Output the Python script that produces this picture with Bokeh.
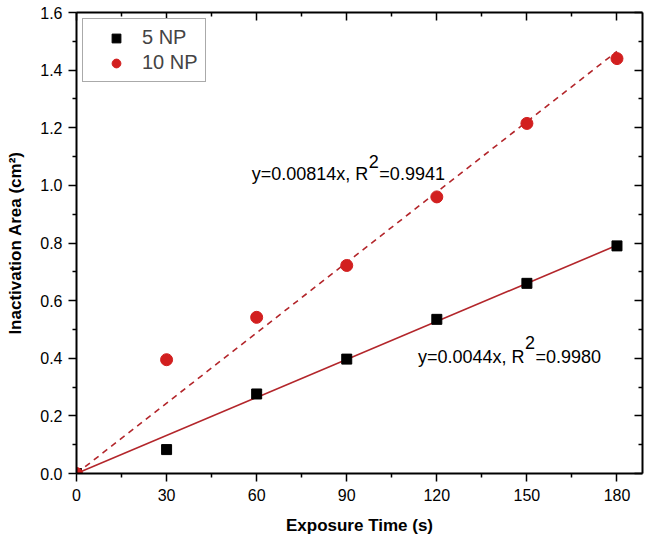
from bokeh.plotting import figure
from bokeh.models import (Range1d, LinearAxis, FixedTicker, Label, Legend, LegendItem,
                          CustomJSTickFormatter)
from bokeh.embed import file_html
from bokeh.resources import INLINE

# ---- data ----
time_s = [0, 30, 60, 90, 120, 150, 180]
area_5np = [0.0, 0.083, 0.276, 0.397, 0.535, 0.660, 0.790]
area_10np = [0.0, 0.395, 0.542, 0.722, 0.960, 1.215, 1.440]
slope_5np = 0.0044
slope_10np = 0.00814
r2_5np = "0.9980"
r2_10np = "0.9941"
x_ticks = [0, 30, 60, 90, 120, 150, 180]
x_minor = [15, 45, 75, 105, 135, 165]
y_ticks = [0.0, 0.2, 0.4, 0.6, 0.8, 1.0, 1.2, 1.4, 1.6]
y_minor = [0.1, 0.3, 0.5, 0.7, 0.9, 1.1, 1.3, 1.5]
series_names = ["5 NP", "10 NP"]

FONT = "Liberation Sans"
RED_MARK = "#d21f1f"
RED_LINE = "#b3262b"

p = figure(width=653, height=538, output_backend="svg", toolbar_location=None,
           x_range=Range1d(0, 188.5), y_range=Range1d(0, 1.6),
           min_border_left=76, min_border_right=11, min_border_top=12, min_border_bottom=65)
p.grid.visible = False
p.outline_line_color = None
p.background_fill_color = "white"
p.border_fill_color = "white"

def style_axis(ax, inner):
    ax.axis_line_width = 2
    ax.axis_line_color = "black"
    ax.major_tick_line_width = 1.5
    ax.minor_tick_line_width = 1.5
    ax.major_tick_line_color = "black"
    ax.minor_tick_line_color = "black"
    if inner:
        ax.major_tick_in = 8
        ax.major_tick_out = 0
        ax.minor_tick_in = 4
        ax.minor_tick_out = 0
        ax.formatter = CustomJSTickFormatter(code="return ''")
        ax.major_label_standoff = 0
        ax.major_label_text_font_size = "1px"
    else:
        ax.major_tick_in = 0
        ax.major_tick_out = 8
        ax.minor_tick_in = 0
        ax.minor_tick_out = 4
        ax.major_label_text_font = FONT
        ax.major_label_text_font_size = "16px"
        ax.major_label_text_color = "black"
        ax.axis_label_text_font = FONT
        ax.axis_label_text_font_size = "17px"
        ax.axis_label_text_font_style = "bold"
        ax.axis_label_text_color = "black"

xt = FixedTicker(ticks=x_ticks, minor_ticks=x_minor)
yt = FixedTicker(ticks=y_ticks, minor_ticks=y_minor)

p.xaxis.ticker = xt
p.yaxis.ticker = yt
p.xaxis.axis_label = "Exposure Time (s)"
p.yaxis.axis_label = "Inactivation Area (cm\u00b2)"
style_axis(p.xaxis[0], False)
style_axis(p.yaxis[0], False)
p.xaxis.major_label_standoff = 7
p.yaxis.major_label_standoff = 6
p.xaxis.axis_label_standoff = 12
p.yaxis.axis_label_standoff = 12
p.yaxis.formatter = CustomJSTickFormatter(code="return tick.toFixed(1)")

top_ax = LinearAxis(ticker=FixedTicker(ticks=x_ticks, minor_ticks=x_minor))
style_axis(top_ax, True)
p.add_layout(top_ax, "above")
right_ax = LinearAxis(ticker=FixedTicker(ticks=y_ticks, minor_ticks=y_minor))
style_axis(right_ax, True)
p.add_layout(right_ax, "right")

# fit lines
x_end = time_s[-1]
p.line([0, x_end], [0, slope_5np * x_end], line_color=RED_LINE, line_width=1.6)
p.line([0, x_end], [0, slope_10np * x_end], line_color=RED_LINE, line_width=1.6,
       line_dash="6 5")

r5 = p.scatter(time_s, area_5np, marker="square", size=10, fill_color="black",
               line_color="black")
r10 = p.scatter(time_s, area_10np, marker="circle", size=12, fill_color=RED_MARK,
                line_color=RED_MARK)

legend = Legend(items=[LegendItem(label=series_names[0], renderers=[r5]),
                       LegendItem(label=series_names[1], renderers=[r10])],
                location="top_left")
legend.margin = 6
legend.padding = 7
legend.spacing = 2
legend.glyph_width = 52
legend.glyph_height = 22
legend.label_height = 22
legend.label_standoff = 0
legend.label_text_font = FONT
legend.label_text_font_size = "20px"
legend.border_line_color = "#555555"
legend.border_line_width = 1
legend.background_fill_alpha = 1
p.add_layout(legend)

def equation(x_r, y_base, y_sup, slope_text, r2_text):
    common = dict(text_font=FONT, text_font_size="18px", text_color="black",
                  text_baseline="alphabetic")
    p.add_layout(Label(x=x_r, y=y_base, text="y=" + slope_text + "x, R",
                       text_align="right", **common))
    p.add_layout(Label(x=x_r, y=y_sup, text="2", text_align="left", x_offset=0.5,
                       **common))
    p.add_layout(Label(x=x_r, y=y_base, text="=" + r2_text, text_align="left",
                       x_offset=11, **common))

equation(97.2, 1.040, 1.084, "0.00814", r2_10np)
equation(149.2, 0.404, 0.4545, "0.0044", r2_5np)

open("out.html", "w").write(file_html(p, INLINE))
